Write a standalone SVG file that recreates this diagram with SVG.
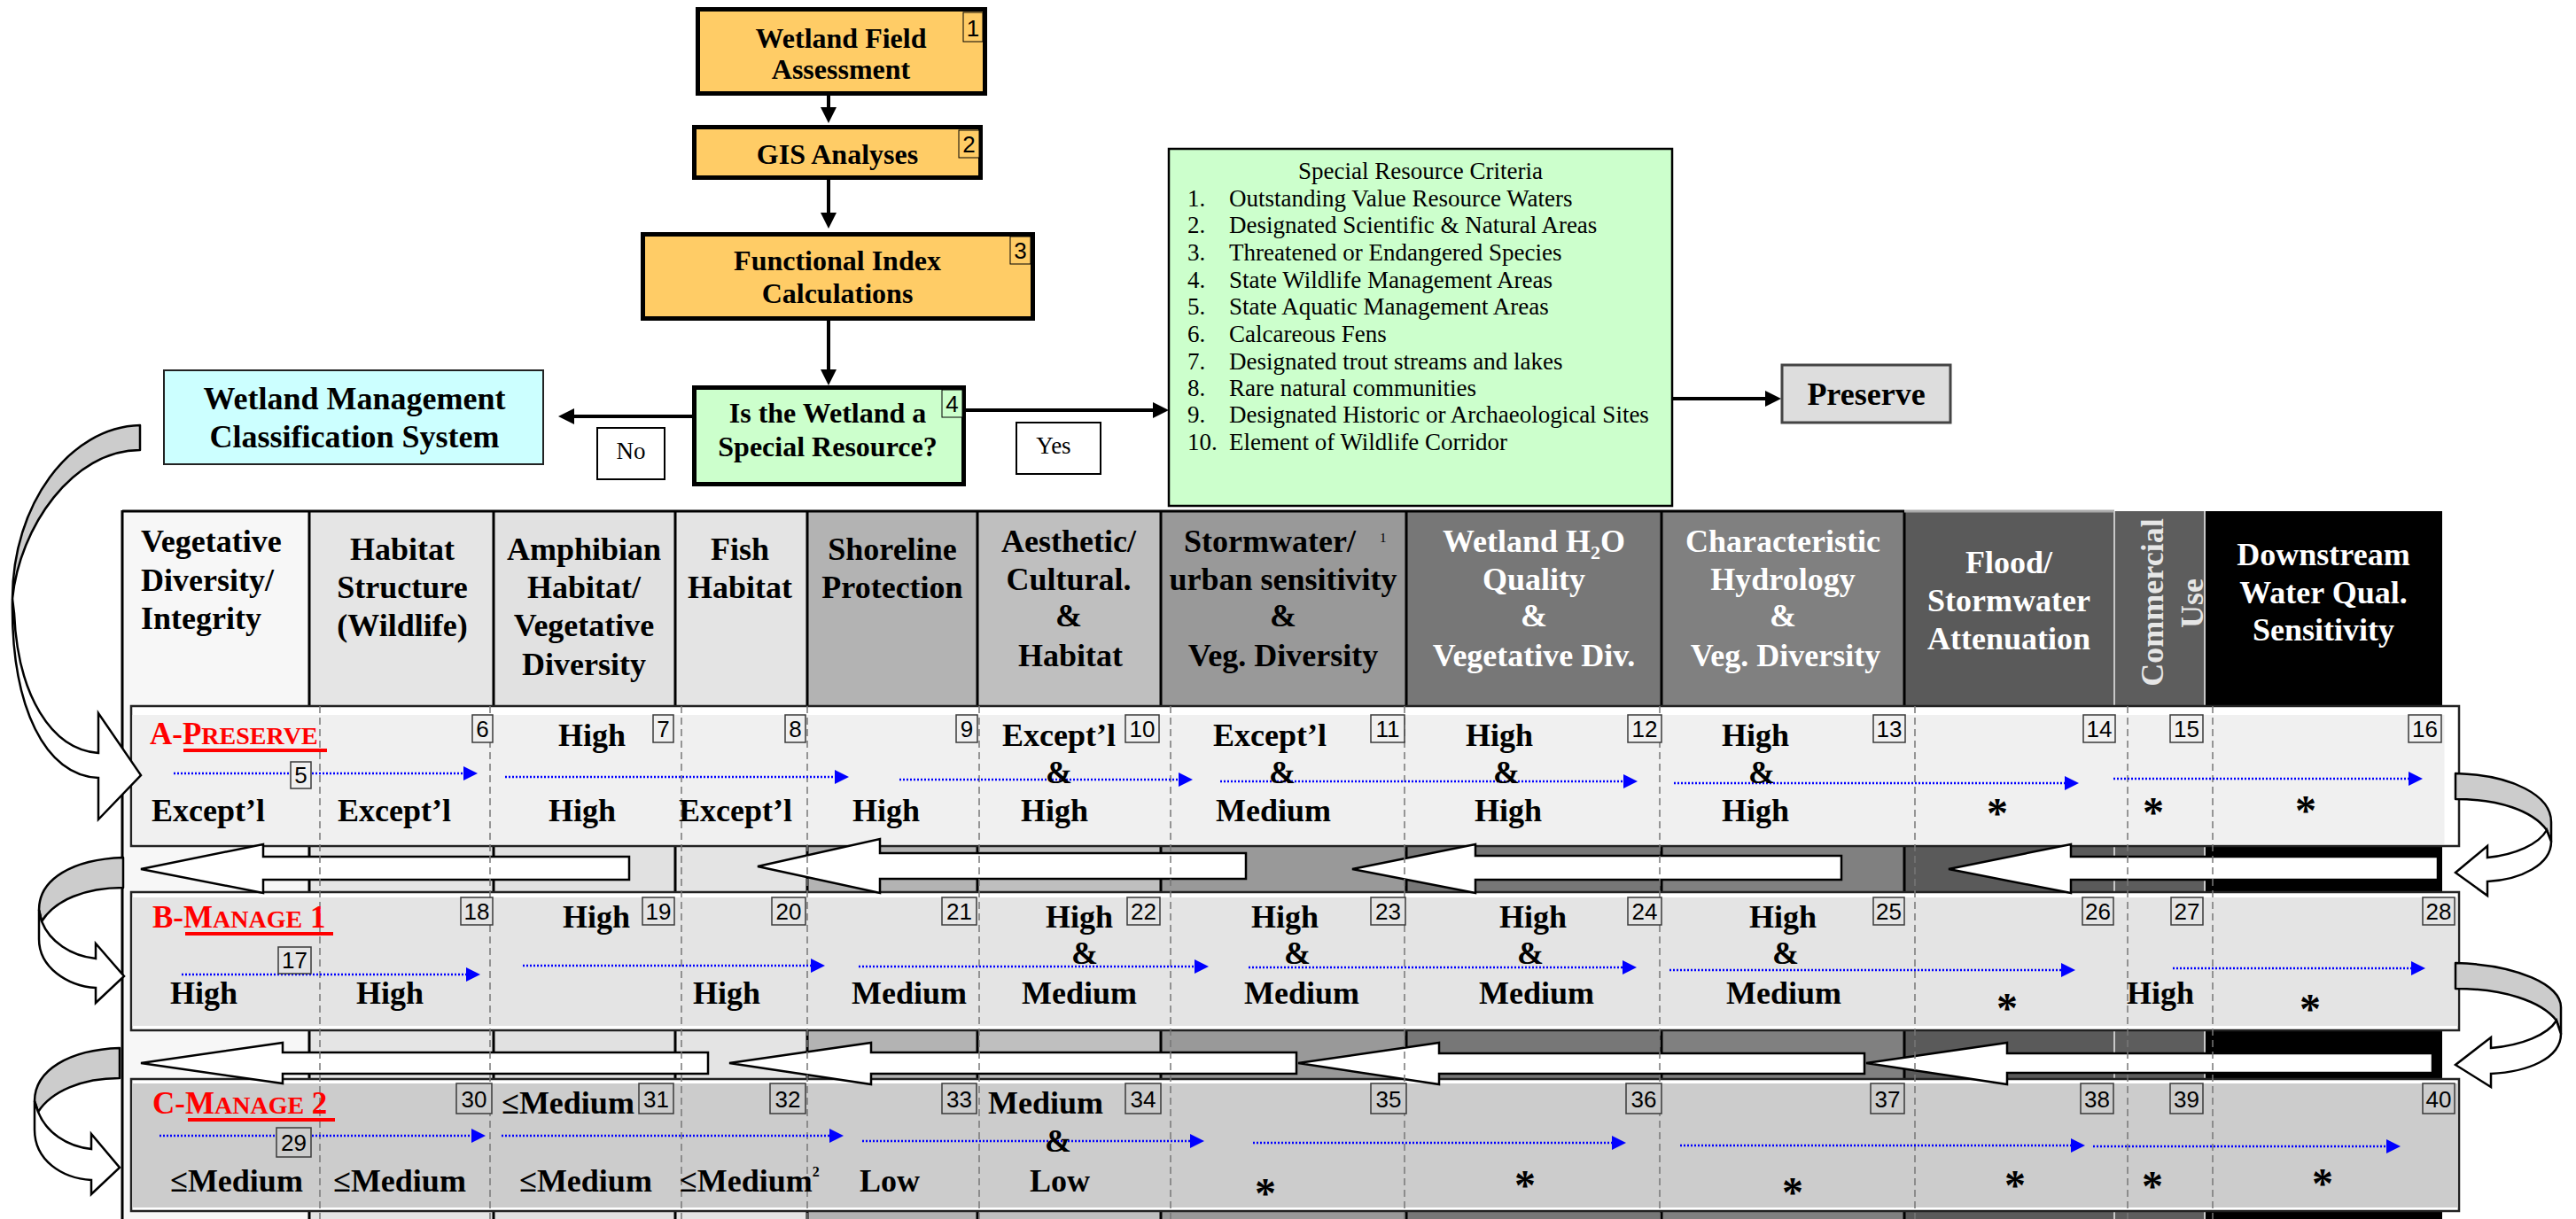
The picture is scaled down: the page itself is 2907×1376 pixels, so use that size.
<svg xmlns="http://www.w3.org/2000/svg" width="2907" height="1376" viewBox="0 0 2907 1376">
<defs>
<style>
.t{font-family:"Liberation Serif","Times New Roman",serif}
.b{font-weight:bold;font-size:36px}
.m{text-anchor:middle}
.w{fill:#fff}
.fc{font-family:"Liberation Serif","Times New Roman",serif;font-weight:bold;font-size:32px;text-anchor:middle}
.n{font-family:"Liberation Sans",Arial,sans-serif;font-size:26px;text-anchor:middle;fill:#000}
.nb{stroke:#3a3a3a;stroke-width:1.5}
.lst{font-family:"Liberation Serif","Times New Roman",serif;font-size:27px}
.red{font-family:"Liberation Serif","Times New Roman",serif;font-weight:bold;font-size:35px;fill:#f00}
.ul{stroke:#f00;stroke-width:4}
.dv{stroke:#000;stroke-width:3}
.dash{stroke:#777;stroke-width:1.5;stroke-dasharray:8 5;fill:none}
.bl{stroke:#00f;stroke-width:2.5;stroke-dasharray:2 2;fill:none;marker-end:url(#bh)}
.ba{fill:#fff;stroke:#000;stroke-width:2.5}
.cg{fill:#ccc;stroke:#000;stroke-width:2.5;stroke-linejoin:round}
.cw{fill:#fff;stroke:#000;stroke-width:2.5;stroke-linejoin:miter}
.ar{stroke:#000;stroke-width:4;fill:none;marker-end:url(#ah)}
.st{font-family:"Liberation Serif","Times New Roman",serif;font-weight:bold;font-size:48px;text-anchor:middle}
</style>
<marker id="ah" markerUnits="userSpaceOnUse" viewBox="0 0 18 18" markerWidth="18" markerHeight="18" refX="0" refY="9" orient="auto"><path d="M0,0L18,9L0,18z" fill="#000"/></marker>
<marker id="bh" markerUnits="userSpaceOnUse" viewBox="0 0 16 16" markerWidth="16" markerHeight="16" refX="0" refY="8" orient="auto"><path d="M0,0L16,8L0,16z" fill="#00f"/></marker>
</defs>
<rect width="2907" height="1376" fill="#fff"/>

<!-- flowchart nodes -->
<g id="n1">
<rect x="787.5" y="10.5" width="324" height="95" fill="#FFCC66" stroke="#000" stroke-width="5"/>
<rect x="1087" y="14" width="22" height="33" fill="#FFCC66" stroke="#000" stroke-width="1"/>
<text x="1098" y="41" class="n">1</text>
<text x="949" y="54" class="fc">Wetland Field</text>
<text x="949" y="89" class="fc">Assessment</text>
</g>
<g id="n2">
<rect x="783.5" y="143.5" width="323" height="57" fill="#FFCC66" stroke="#000" stroke-width="5"/>
<rect x="1082" y="147" width="23" height="31" fill="#FFCC66" stroke="#000" stroke-width="1"/>
<text x="1093.5" y="172" class="n">2</text>
<text x="945" y="185" class="fc">GIS Analyses</text>
</g>
<g id="n3">
<rect x="725.5" y="264.5" width="440" height="95" fill="#FFCC66" stroke="#000" stroke-width="5"/>
<rect x="1140" y="267" width="23" height="31" fill="#FFCC66" stroke="#000" stroke-width="1"/>
<text x="1151.5" y="292" class="n">3</text>
<text x="945" y="305" class="fc">Functional Index</text>
<text x="945" y="342" class="fc">Calculations</text>
</g>
<g id="n4">
<rect x="783.5" y="437.5" width="304" height="109" fill="#CCFFCC" stroke="#000" stroke-width="5"/>
<rect x="1063" y="440" width="23" height="31" fill="#CCFFCC" stroke="#000" stroke-width="1"/>
<text x="1074.5" y="465" class="n">4</text>
<text x="934" y="477" class="fc">Is the Wetland a</text>
<text x="934" y="515" class="fc">Special Resource?</text>
</g>
<g id="wmcs">
<rect x="185" y="418" width="428" height="106" fill="#CCFFFF" stroke="#222" stroke-width="2"/>
<text x="400" y="462" class="t b m" font-size="35">Wetland Management</text>
<text x="400" y="505" class="t b m" font-size="35">Classification System</text>
</g>
<g id="nolabel">
<rect x="674" y="483" width="76" height="58" fill="#fff" stroke="#000" stroke-width="2"/>
<text x="712" y="518" class="lst" text-anchor="middle">No</text>
</g>
<g id="yeslabel">
<rect x="1147" y="477" width="95" height="58" fill="#fff" stroke="#000" stroke-width="2"/>
<text x="1189" y="512" class="lst" text-anchor="middle">Yes</text>
</g>
<g id="src">
<rect x="1319" y="168" width="568" height="403" fill="#CCFFCC" stroke="#000" stroke-width="2.5"/>
<text x="1603" y="202" class="lst" text-anchor="middle">Special Resource Criteria</text>
<g class="lst">
<text x="1340" y="233">1.</text><text x="1387" y="233">Outstanding Value Resource Waters</text>
<text x="1340" y="263">2.</text><text x="1387" y="263">Designated Scientific &amp; Natural Areas</text>
<text x="1340" y="294">3.</text><text x="1387" y="294">Threatened or Endangered Species</text>
<text x="1340" y="325">4.</text><text x="1387" y="325">State Wildlife Management Areas</text>
<text x="1340" y="355">5.</text><text x="1387" y="355">State Aquatic Management Areas</text>
<text x="1340" y="386">6.</text><text x="1387" y="386">Calcareous Fens</text>
<text x="1340" y="417">7.</text><text x="1387" y="417">Designated trout streams and lakes</text>
<text x="1340" y="447">8.</text><text x="1387" y="447">Rare natural communities</text>
<text x="1340" y="477">9.</text><text x="1387" y="477">Designated Historic or Archaeological Sites</text>
<text x="1340" y="508">10.</text><text x="1387" y="508">Element of Wildlife Corridor</text>
</g>
</g>
<g id="preserve">
<rect x="2011" y="412" width="190" height="65" fill="#DDDDDD" stroke="#444" stroke-width="3"/>
<text x="2106" y="457" class="t m" font-weight="bold" font-size="36">Preserve</text>
</g>

<!-- flowchart connectors -->
<g id="connectors">
<path class="ar" d="M935,108V121"/>
<path class="ar" d="M935,203V240"/>
<path class="ar" d="M935,362V417"/>
<path class="ar" d="M781,470H648"/>
<path class="ar" d="M1090,463H1301"/>
<path class="ar" d="M1887,450H1992"/>
</g>

<!-- table columns -->
<g id="columns">
<rect x="138" y="577" width="211" height="799" fill="#F7F7F7"/>
<rect x="349" y="577" width="208" height="799" fill="#E5E5E5"/>
<rect x="557" y="577" width="205" height="799" fill="#E1E1E1"/>
<rect x="762" y="577" width="149" height="799" fill="#E4E4E4"/>
<rect x="911" y="577" width="192" height="799" fill="#B3B3B3"/>
<rect x="1103" y="577" width="207" height="799" fill="#BFBFBF"/>
<rect x="1310" y="577" width="277" height="799" fill="#999999"/>
<rect x="1587" y="577" width="288" height="799" fill="#777777"/>
<rect x="1875" y="577" width="274" height="799" fill="#808080"/>
<rect x="2149" y="577" width="237" height="799" fill="#5A5A5A"/>
<rect x="2386" y="577" width="102" height="799" fill="#5D5D5D"/>
<rect x="2488" y="577" width="268" height="799" fill="#000000"/>
<path class="dv" d="M138,577H2149M138,576V1376M349,577V1376M557,577V1376M762,577V1376M911,577V1376M1103,577V1376M1310,577V1376M1587,577V1376M1875,577V1376M2149,577V1376"/>
<path d="M2149,577H2386" stroke="#aaa" stroke-width="3"/>
<path d="M2386,577V1376M2488,577V1376" stroke="#c8c8c8" stroke-width="2"/>
</g>

<g id="headers">
<g class="t b">
<text x="159" y="623">Vegetative</text>
<text x="159" y="667">Diversity/</text>
<text x="159" y="710">Integrity</text>
</g>
<g class="t b m">
<text x="454" y="632">Habitat</text>
<text x="454" y="675">Structure</text>
<text x="454" y="718">(Wildlife)</text>
<text x="659" y="632">Amphibian</text>
<text x="659" y="675">Habitat/</text>
<text x="659" y="718">Vegetative</text>
<text x="659" y="762">Diversity</text>
<text x="835" y="632">Fish</text>
<text x="835" y="675">Habitat</text>
<text x="1007" y="632">Shoreline</text>
<text x="1007" y="675">Protection</text>
<text x="1206" y="623">Aesthetic/</text>
<text x="1206" y="666">Cultural.</text>
<text x="1206" y="707">&amp;</text>
<text x="1208" y="752">Habitat</text>
<text x="1433" y="623">Stormwater/</text>
<text x="1448" y="666">urban sensitivity</text>
<text x="1448" y="707">&amp;</text>
<text x="1448" y="752">Veg. Diversity</text>
</g>
<text x="1557" y="612" class="t" font-size="15">1</text>
<g class="t b m w">
<text x="1731" y="623">Wetland H<tspan font-size="22" dy="8">2</tspan><tspan dy="-8">O</tspan></text>
<text x="1731" y="666">Quality</text>
<text x="1731" y="707">&amp;</text>
<text x="1731" y="752">Vegetative Div.</text>
<text x="2012" y="623">Characteristic</text>
<text x="2012" y="666">Hydrology</text>
<text x="2012" y="707">&amp;</text>
<text x="2015" y="752">Veg. Diversity</text>
<text x="2267" y="647">Flood/</text>
<text x="2267" y="690">Stormwater</text>
<text x="2267" y="733">Attenuation</text>
<text x="2622" y="638">Downstream</text>
<text x="2622" y="681">Water Qual.</text>
<text x="2622" y="723">Sensitivity</text>
</g>
<text transform="translate(2441,680) rotate(-90)" class="t b m" fill="#E6E6E6">Commercial</text>
<text transform="translate(2486,681) rotate(-90)" class="t b m" fill="#E6E6E6">Use</text>
</g>

<!-- rows -->
<g id="rowA">
<rect x="148" y="797" width="2627" height="158" fill="#fff" stroke="#222" stroke-width="2.5"/>
<rect x="149.5" y="807" width="2609" height="146" fill="#F0F0F0"/>
</g>
<g id="rowB">
<rect x="148" y="1007" width="2627" height="156" fill="#fff" stroke="#222" stroke-width="2.5"/>
<rect x="149.5" y="1013" width="2624" height="145" fill="#E4E4E4"/>
</g>
<g id="rowC">
<rect x="148" y="1218" width="2627" height="149" fill="#fff" stroke="#222" stroke-width="2.5"/>
<rect x="149.5" y="1223" width="2624" height="140" fill="#CCCCCC"/>
</g>

<!-- big white arrows between rows -->
<g id="bigarrows">
<path class="ba" d="M159,981L297,953L297,967L710,967L710,993L297,993L297,1008Z"/>
<path class="ba" d="M855,978L993,947L993,963L1406,963L1406,992L993,992L993,1008Z"/>
<path class="ba" d="M1526,981L1665,953L1665,966L2078,966L2078,993L1665,993L1665,1008Z"/>
<path class="ba" d="M2199,981L2337,953L2337,967L2751,967L2751,993L2337,993L2337,1008Z"/>
<path class="ba" d="M159,1200L319,1177L319,1188L799,1188L799,1212L319,1212L319,1223Z"/>
<path class="ba" d="M823,1200L983,1177L983,1188L1463,1188L1463,1212L983,1212L983,1224Z"/>
<path class="ba" d="M1465,1200L1624,1177L1624,1189L2104,1189L2104,1212L1624,1212L1624,1224Z"/>
<path class="ba" d="M2106,1200L2265,1177L2265,1189L2745,1189L2745,1211L2265,1211L2265,1224Z"/>
</g>

<g id="dashes">
<path class="dash" d="M361,797V1376M553,797V1376M769,797V1376M911,797V1376M1105,797V1376M1321,797V1376M1585,797V1376M1873,797V1376M2161,797V1376M2401,797V1376M2497,797V1376"/>
</g>

<g id="bluearrows">
<path class="bl" d="M196,873H523"/>
<path class="bl" d="M570,877H942"/>
<path class="bl" d="M1015,880H1330"/>
<path class="bl" d="M1377,882H1832"/>
<path class="bl" d="M1889,884H2330"/>
<path class="bl" d="M2385,879H2718"/>
<path class="bl" d="M205,1100H526"/>
<path class="bl" d="M590,1090H915"/>
<path class="bl" d="M969,1091H1348"/>
<path class="bl" d="M1409,1092H1831"/>
<path class="bl" d="M1884,1095H2326"/>
<path class="bl" d="M2452,1093H2721"/>
<path class="bl" d="M180,1282H532"/>
<path class="bl" d="M566,1282H936"/>
<path class="bl" d="M973,1288H1343"/>
<path class="bl" d="M1414,1290H1819"/>
<path class="bl" d="M1896,1293H2337"/>
<path class="bl" d="M2362,1294H2693"/>
</g>

<!-- number boxes -->
<g id="numsA" fill="#F0F0F0">
<rect class="nb" x="328" y="860" width="23" height="30"/><text class="n" x="339.5" y="884">5</text>
<rect class="nb" x="533" y="807" width="23" height="31"/><text class="n" x="544.5" y="832">6</text>
<rect class="nb" x="737" y="807" width="23" height="31"/><text class="n" x="748.5" y="832">7</text>
<rect class="nb" x="886" y="807" width="23" height="31"/><text class="n" x="897.5" y="832">8</text>
<rect class="nb" x="1079" y="807" width="24" height="31"/><text class="n" x="1091" y="832">9</text>
<rect class="nb" x="1270" y="807" width="38" height="31"/><text class="n" x="1289" y="832">10</text>
<rect class="nb" x="1547" y="807" width="38" height="31"/><text class="n" x="1566" y="832">11</text>
<rect class="nb" x="1837" y="807" width="38" height="31"/><text class="n" x="1856" y="832">12</text>
<rect class="nb" x="2114" y="807" width="36" height="31"/><text class="n" x="2132" y="832">13</text>
<rect class="nb" x="2351" y="807" width="36" height="31"/><text class="n" x="2369" y="832">14</text>
<rect class="nb" x="2449" y="807" width="37" height="31"/><text class="n" x="2467.5" y="832">15</text>
<rect class="nb" x="2718" y="807" width="37" height="31"/><text class="n" x="2736.5" y="832">16</text>
</g>
<g id="numsB" fill="#E4E4E4">
<rect class="nb" x="314" y="1069" width="37" height="30"/><text class="n" x="332.5" y="1093">17</text>
<rect class="nb" x="520" y="1013" width="36" height="31"/><text class="n" x="538" y="1038">18</text>
<rect class="nb" x="725" y="1013" width="36" height="31"/><text class="n" x="743" y="1038">19</text>
<rect class="nb" x="871" y="1013" width="38" height="31"/><text class="n" x="890" y="1038">20</text>
<rect class="nb" x="1063" y="1013" width="39" height="31"/><text class="n" x="1082.5" y="1038">21</text>
<rect class="nb" x="1272" y="1013" width="37" height="31"/><text class="n" x="1290.5" y="1038">22</text>
<rect class="nb" x="1547" y="1013" width="39" height="31"/><text class="n" x="1566.5" y="1038">23</text>
<rect class="nb" x="1837" y="1013" width="38" height="31"/><text class="n" x="1856" y="1038">24</text>
<rect class="nb" x="2114" y="1013" width="35" height="31"/><text class="n" x="2131.5" y="1038">25</text>
<rect class="nb" x="2350" y="1013" width="35" height="31"/><text class="n" x="2367.5" y="1038">26</text>
<rect class="nb" x="2450" y="1013" width="36" height="31"/><text class="n" x="2468" y="1038">27</text>
<rect class="nb" x="2734" y="1013" width="36" height="31"/><text class="n" x="2752" y="1038">28</text>
</g>
<g id="numsC" fill="#CCCCCC">
<rect class="nb" x="312" y="1273" width="39" height="33"/><text class="n" x="331.5" y="1299">29</text>
<rect class="nb" x="515" y="1223" width="40" height="34"/><text class="n" x="535" y="1250">30</text>
<rect class="nb" x="721" y="1223" width="39" height="34"/><text class="n" x="740.5" y="1250">31</text>
<rect class="nb" x="869" y="1223" width="40" height="34"/><text class="n" x="889" y="1250">32</text>
<rect class="nb" x="1063" y="1223" width="39" height="34"/><text class="n" x="1082.5" y="1250">33</text>
<rect class="nb" x="1270" y="1223" width="40" height="34"/><text class="n" x="1290" y="1250">34</text>
<rect class="nb" x="1547" y="1223" width="40" height="34"/><text class="n" x="1567" y="1250">35</text>
<rect class="nb" x="1835" y="1223" width="40" height="34"/><text class="n" x="1855" y="1250">36</text>
<rect class="nb" x="2111" y="1223" width="38" height="34"/><text class="n" x="2130" y="1250">37</text>
<rect class="nb" x="2348" y="1223" width="37" height="34"/><text class="n" x="2366.5" y="1250">38</text>
<rect class="nb" x="2449" y="1223" width="37" height="34"/><text class="n" x="2467.5" y="1250">39</text>
<rect class="nb" x="2734" y="1223" width="36" height="34"/><text class="n" x="2752" y="1250">40</text>
</g>

<!-- row labels -->
<g id="labels">
<text x="169" y="840" class="red">A-P<tspan font-size="28">RESERVE</tspan></text>
<path class="ul" d="M207,847H369"/>
<text x="172" y="1047" class="red">B-M<tspan font-size="28">ANAGE</tspan> 1</text>
<path class="ul" d="M209,1054H376"/>
<text x="172" y="1257" class="red">C-M<tspan font-size="28">ANAGE</tspan> 2</text>
<path class="ul" d="M212,1264H378"/>
</g>

<!-- row texts -->
<g id="textA" class="t b m">
<text x="235" y="927">Except’l</text>
<text x="445" y="927">Except’l</text>
<text x="668" y="842">High</text>
<text x="657" y="927">High</text>
<text x="830" y="927">Except’l</text>
<text x="1000" y="927">High</text>
<text x="1195" y="842">Except’l</text>
<text x="1195" y="884">&amp;</text>
<text x="1190" y="927">High</text>
<text x="1433" y="842">Except’l</text>
<text x="1447" y="884">&amp;</text>
<text x="1437" y="927">Medium</text>
<text x="1692" y="842">High</text>
<text x="1700" y="884">&amp;</text>
<text x="1702" y="927">High</text>
<text x="1981" y="842">High</text>
<text x="1988" y="884">&amp;</text>
<text x="1981" y="927">High</text>
</g>
<g class="st">
<text x="2254" y="934">*</text>
<text x="2430" y="933">*</text>
<text x="2602" y="931">*</text>
</g>
<g id="textB" class="t b m">
<text x="230" y="1133">High</text>
<text x="440" y="1133">High</text>
<text x="673" y="1047">High</text>
<text x="820" y="1133">High</text>
<text x="1026" y="1133">Medium</text>
<text x="1218" y="1047">High</text>
<text x="1224" y="1088">&amp;</text>
<text x="1218" y="1133">Medium</text>
<text x="1450" y="1047">High</text>
<text x="1464" y="1088">&amp;</text>
<text x="1469" y="1133">Medium</text>
<text x="1730" y="1047">High</text>
<text x="1727" y="1088">&amp;</text>
<text x="1734" y="1133">Medium</text>
<text x="2012" y="1047">High</text>
<text x="2015" y="1088">&amp;</text>
<text x="2013" y="1133">Medium</text>
<text x="2438" y="1133">High</text>
</g>
<g class="st">
<text x="2265" y="1154">*</text>
<text x="2607" y="1155">*</text>
</g>
<g id="textC" class="t b m">
<text x="267" y="1345">≤Medium</text>
<text x="451" y="1345">≤Medium</text>
<text x="641" y="1257">≤Medium</text>
<text x="661" y="1345">≤Medium</text>
<text x="767" y="1345" text-anchor="start">≤Medium<tspan font-size="16" dy="-17">2</tspan></text>
<text x="1004" y="1345">Low</text>
<text x="1180" y="1257">Medium</text>
<text x="1194" y="1300">&amp;</text>
<text x="1196" y="1345">Low</text>
</g>
<g class="st">
<text x="1428" y="1363">*</text>
<text x="1721" y="1354">*</text>
<text x="2023" y="1362">*</text>
<text x="2274" y="1354">*</text>
<text x="2429" y="1355">*</text>
<text x="2621" y="1352">*</text>
</g>

<!-- curved side arrows -->
<g id="curved">
<path class="cg" d="M158,480C78,482 14,570 14,676C22,595 82,508 158,508Z"/>
<path class="cw" d="M14,676C12,800 52,876 111,878L111,925L159,875L111,805L111,850C58,846 20,785 16,692Z"/>
<path class="cg" d="M139,968C82,970 44,992 44,1027L47,1040C62,1016 96,1002 139,1002Z"/>
<path class="cw" d="M44,1027L44,1060C44,1092 76,1113 108,1115L108,1132L140,1102L108,1065L108,1082C80,1079 56,1063 47,1040Z"/>
<path class="cg" d="M135,1183C78,1185 39,1208 39,1243L43,1255C58,1232 92,1217 135,1217Z"/>
<path class="cw" d="M39,1243L39,1275C39,1310 70,1330 103,1332L103,1348L135,1318L103,1280L103,1297C75,1294 52,1278 43,1255Z"/>
<path class="cg" d="M2771,873C2836,875 2879,898 2879,928L2879,950L2874,937C2858,915 2820,902 2771,902Z"/>
<path class="cw" d="M2874,937L2879,950C2879,976 2845,993 2807,995L2807,1011L2771,985L2807,955L2807,968C2838,965 2865,953 2874,937Z"/>
<path class="cg" d="M2771,1087C2842,1089 2890,1112 2890,1137L2890,1167L2885,1152C2868,1130 2825,1116 2771,1116Z"/>
<path class="cw" d="M2885,1152L2890,1167C2890,1195 2852,1210 2811,1212L2811,1227L2771,1202L2811,1171L2811,1183C2846,1180 2875,1168 2885,1152Z"/>
</g>
</svg>
